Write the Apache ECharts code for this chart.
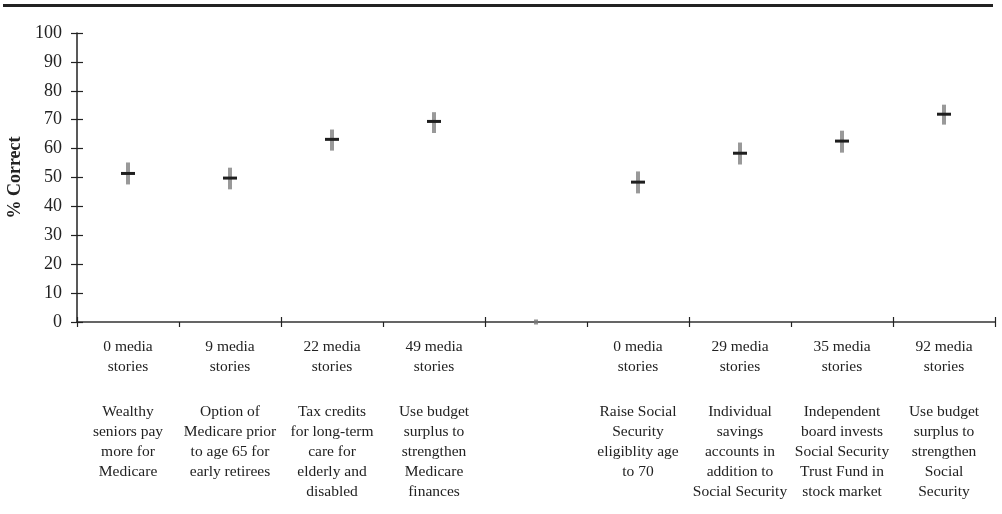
<!DOCTYPE html>
<html>
<head>
<meta charset="utf-8">
<script src="https://cdn.jsdelivr.net/npm/echarts@6/dist/echarts.min.js"></script>
<style>
html,body{margin:0;padding:0;background:#fff;}
#chart{width:1002px;height:514px;}
</style>
</head>
<body>
<div id="chart"></div>
<script>
const storyCounts = ['0 media', '9 media', '22 media', '49 media', '', '0 media', '29 media', '35 media', '92 media'];
const descriptions = [
  'Wealthy\nseniors pay\nmore for\nMedicare',
  'Option of\nMedicare prior\nto age 65 for\nearly retirees',
  'Tax credits\nfor long-term\ncare for\nelderly and\ndisabled',
  'Use budget\nsurplus to\nstrengthen\nMedicare\nfinances',
  '',
  'Raise Social\nSecurity\neligiblity age\nto 70',
  'Individual\nsavings\naccounts in\naddition to\nSocial Security',
  'Independent\nboard invests\nSocial Security\nTrust Fund in\nstock market',
  'Use budget\nsurplus to\nstrengthen\nSocial\nSecurity'
];
const means = [51.4, 49.8, 63.2, 69.4, null, 48.4, 58.4, 62.6, 71.9];
const lows  = [47.6, 45.9, 59.3, 65.4, null, 44.5, 54.5, 58.6, 68.3];
const highs = [55.2, 53.4, 66.6, 72.6, null, 52.1, 62.1, 66.2, 75.2];
const gapMarker = [null, null, null, null, 0, null, null, null, null];
const yTicks = [0, 10, 20, 30, 40, 50, 60, 70, 80, 90, 100];

const categories = storyCounts.map((s, i) => {
  if (!s) return '';
  const top = '{a|' + s + '}\n{a|stories}\n{g| }\n';
  const desc = descriptions[i].split('\n').map(l => '{b|' + l + '}').join('\n');
  return top + desc;
});

const errData = means.map((m, i) => m == null ? null : [i, lows[i], highs[i], m]).filter(d => d);

const chart = echarts.init(document.getElementById('chart'), null, {renderer: 'canvas'});
const font = 'Liberation Serif';
const option = {
  animation: false,
  backgroundColor: '#fff',
  graphic: [{
    type: 'rect',
    shape: {x: 3, y: 4, width: 990, height: 3},
    style: {fill: '#222'}
  }],
  grid: {left: 77, right: 7, top: 33, bottom: 192, containLabel: false, outerBoundsMode: 'none'},
  xAxis: [{
    type: 'category',
    data: categories,
    boundaryGap: true,
    axisLine: {lineStyle: {color: '#333', width: 1.5}},
    axisTick: {show: true, length: 5, inside: false, lineStyle: {color: '#222', width: 1.2}},
    axisLabel: {
      interval: 0,
      margin: 15,
      color: '#222',
      fontFamily: font,
      rich: {
        a: {fontFamily: font, fontSize: 15.5, lineHeight: 20, color: '#222', align: 'center'},
        g: {fontFamily: font, fontSize: 10, lineHeight: 25, color: '#222'},
        b: {fontFamily: font, fontSize: 15.5, lineHeight: 20, color: '#222', align: 'center'}
      }
    },
    splitLine: {show: false}
  }, {
    type: 'category',
    data: categories,
    boundaryGap: true,
    position: 'bottom',
    axisLine: {show: false},
    axisTick: {show: true, length: 5, inside: true, lineStyle: {color: '#222', width: 1.2}},
    axisLabel: {show: false},
    splitLine: {show: false}
  }],
  yAxis: [{
    type: 'value',
    min: 0, max: 100, interval: 10,
    name: '% Correct',
    nameLocation: 'middle',
    nameGap: 50,
    nameRotate: 90,
    nameTextStyle: {fontFamily: font, fontSize: 18, fontWeight: 'bold', color: '#222'},
    axisLine: {show: true, lineStyle: {color: '#222', width: 1.5}},
    axisTick: {show: true, length: 6, inside: false, lineStyle: {color: '#222', width: 1.2}},
    axisLabel: {
      margin: 15, color: '#222', fontFamily: font, fontSize: 18,
      formatter: v => yTicks.includes(v) ? String(v) : ''
    },
    splitLine: {show: false}
  }, {
    type: 'value',
    min: 0, max: 100, interval: 10,
    position: 'left',
    axisLine: {show: false},
    axisTick: {show: true, length: 6, inside: true, lineStyle: {color: '#222', width: 1.2}},
    axisLabel: {show: false},
    splitLine: {show: false}
  }],
  series: [{
    type: 'custom',
    xAxisIndex: 0,
    yAxisIndex: 0,
    data: errData,
    renderItem: function (params, api) {
      const x = api.coord([api.value(0), 0])[0];
      const yLow = api.coord([api.value(0), api.value(1)])[1];
      const yHigh = api.coord([api.value(0), api.value(2)])[1];
      const yMean = api.coord([api.value(0), api.value(3)])[1];
      return {
        type: 'group',
        children: [{
          type: 'rect',
          shape: {x: x - 2, y: yHigh, width: 4, height: yLow - yHigh},
          style: {fill: '#999'}
        }, {
          type: 'rect',
          shape: {x: x - 7, y: yMean - 1.5, width: 14, height: 3},
          style: {fill: '#1e1e1e'}
        }]
      };
    }
  }, {
    type: 'scatter',
    data: gapMarker,
    symbol: 'rect',
    symbolSize: [4, 5],
    clip: false,
    itemStyle: {color: '#777'},
    z: 5
  }]
};
chart.setOption(option);
</script>
</body>
</html>
